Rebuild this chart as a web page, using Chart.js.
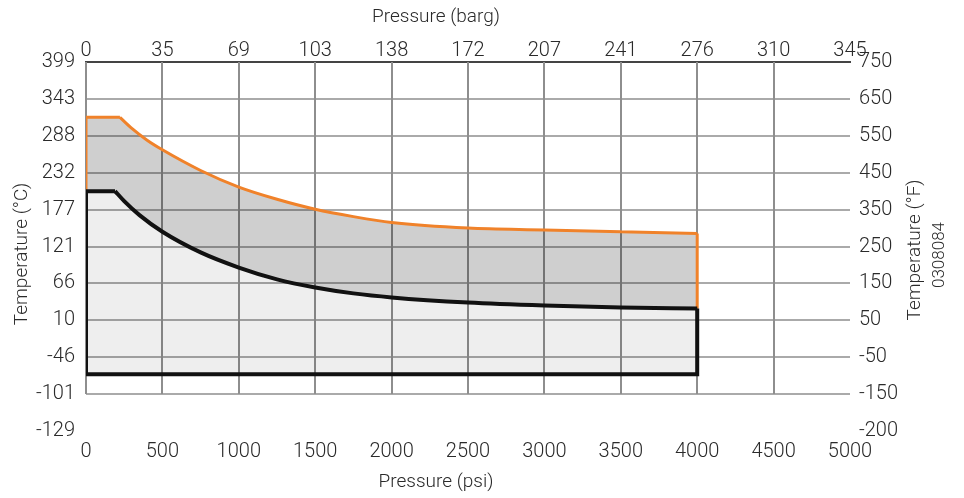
<!DOCTYPE html>
<html>
<head>
<meta charset="utf-8">
<script src="https://cdn.jsdelivr.net/npm/chart.js@4/dist/chart.umd.min.js"></script>
<style>
  body { margin: 0; background: #fff; }
  #chart { display: block; }
</style>
</head>
<body>
<canvas id="chart" width="964" height="498"></canvas>
<script>
// tick labels
const psiLabels = ["0", "500", "1000", "1500", "2000", "2500", "3000", "3500", "4000", "4500", "5000"];
const bargLabels = ["0", "35", "69", "103", "138", "172", "207", "241", "276", "310", "345"];
const fLabels = ["-200", "-150", "-50", "50", "150", "250", "350", "450", "550", "650", "750"];
const cLabels = ["-129", "-101", "-46", "10", "66", "121", "177", "232", "288", "343", "399"];

// upper (orange) limit, psi vs °F
const orangePsi = [0, 222, 300, 400, 500, 750, 1000, 1250, 1500, 1750, 2000, 2500, 3000, 3500, 4000];
const orangeF = [600, 600, 570, 538, 512, 456, 411, 378, 351, 331, 315, 300, 295, 290, 285];

// lower (black) limit, psi vs °F
const blackPsi = [0, 190, 250, 350, 500, 750, 1000, 1250, 1500, 1750, 2000, 2500, 3000, 3500, 4000];
const blackF = [400, 400, 373, 335, 290, 234, 193, 161, 139, 123, 112, 98, 90, 85, 82];

const minTempF = -96;
const maxPsi = 4000;

const toPoints = (xs, ys) => xs.map((x, i) => ({ x: x, y: ys[i] }));
const last = (a) => a[a.length - 1];

// curved part starts at the corner (index 1)
const blackCurve = toPoints(blackPsi, blackF).slice(1);
const orangeCurve = toPoints(orangePsi, orangeF).slice(1);

const blackEdges = [
  { x: blackPsi[1], y: blackF[1] },
  { x: 0, y: blackF[0] },
  { x: 0, y: minTempF },
  { x: maxPsi, y: minTempF },
  { x: maxPsi, y: last(blackF) },
];
const orangeEdges = [
  { x: 0, y: blackF[0] },
  { x: 0, y: orangeF[0] },
  { x: orangePsi[1], y: orangeF[1] },
  { x: 2000, y: null },
  { x: maxPsi, y: last(blackF) },
  { x: maxPsi, y: last(orangeF) },
];

const FONT = "Roboto, 'Liberation Sans', sans-serif";
Chart.defaults.font.family = FONT;
Chart.defaults.font.weight = 300;
Chart.defaults.color = "#2a2a2a";

function drawText(ctx, text, x, y, size, rot) {
  ctx.save();
  ctx.fillStyle = "#2a2a2a";
  ctx.textAlign = "center";
  ctx.textBaseline = "middle";
  ctx.font = "300 " + size + "px " + FONT;
  ctx.translate(x, y);
  if (rot) ctx.rotate(rot);
  ctx.fillText(text, 0, 0);
  ctx.restore();
}

// vertical grid lines stop at the -150 °F line; axis titles
const extras = {
  id: "extras",
  beforeDatasetsDraw(chart) {
    const { ctx, chartArea, scales } = chart;
    const yBottom = scales.yF.getPixelForValue(-150);
    ctx.save();
    ctx.strokeStyle = "#8e8e8e";
    ctx.lineWidth = 2;
    scales.x.ticks.forEach((t) => {
      if (t.value >= 5000) return;
      const px = Math.round(scales.x.getPixelForValue(t.value));
      ctx.beginPath();
      ctx.moveTo(px, chartArea.top);
      ctx.lineTo(px, yBottom);
      ctx.stroke();
    });
    ctx.restore();
  },
  afterDraw(chart) {
    const { ctx, scales } = chart;
    const half = -Math.PI / 2;
    drawText(ctx, "Pressure (barg)", 436, 17, 19, 0);
    drawText(ctx, "Pressure (psi)", 436, 482, 19, 0);
    drawText(ctx, "Temperature (°C)", 22, 254, 19, half);
    drawText(ctx, "Temperature (°F)", scales.yF.left + 65, 250, 19, half);
    drawText(ctx, "0308084", scales.yF.left + 90, 255, 17, half);
  },
};

const noLine = "rgba(0,0,0,0)";

new Chart(document.getElementById("chart"), {
  type: "line",
  data: {
    datasets: [
      {
        label: "lower area",
        data: toPoints(blackPsi, blackF),
        borderColor: noLine,
        borderWidth: 0,
        backgroundColor: "rgba(0,0,0,0.065)",
        fill: { value: minTempF },
        cubicInterpolationMode: "monotone",
        pointRadius: 0,
        xAxisID: "x",
        yAxisID: "yF",
        order: 5,
      },
      {
        label: "upper area",
        data: toPoints(orangePsi, orangeF),
        borderColor: noLine,
        borderWidth: 0,
        backgroundColor: "rgba(0,0,0,0.19)",
        fill: 0,
        cubicInterpolationMode: "monotone",
        pointRadius: 0,
        xAxisID: "x",
        yAxisID: "yF",
        order: 6,
      },
      {
        label: "lower limit",
        data: blackCurve,
        borderColor: "#111",
        borderWidth: 4,
        fill: false,
        cubicInterpolationMode: "monotone",
        pointRadius: 0,
        xAxisID: "x",
        yAxisID: "yF",
        order: 1,
      },
      {
        label: "upper limit",
        data: orangeCurve,
        borderColor: "#f0822a",
        borderWidth: 3,
        fill: false,
        cubicInterpolationMode: "monotone",
        pointRadius: 0,
        xAxisID: "x",
        yAxisID: "yF",
        order: 3,
      },
      {
        label: "lower edges",
        data: blackEdges,
        borderColor: "#111",
        borderWidth: 4,
        borderJoinStyle: "miter",
        fill: false,
        tension: 0,
        pointRadius: 0,
        xAxisID: "x",
        yAxisID: "yF",
        order: 0,
      },
      {
        label: "upper edges",
        data: orangeEdges,
        borderColor: "#f0822a",
        borderWidth: 3,
        borderJoinStyle: "miter",
        fill: false,
        tension: 0,
        spanGaps: false,
        pointRadius: 0,
        xAxisID: "x",
        yAxisID: "yF",
        order: 2,
      },
    ],
  },
  options: {
    responsive: false,
    animation: false,
    layout: { padding: 0 },
    plugins: {
      legend: { display: false },
      tooltip: { enabled: false },
    },
    scales: {
      x: {
        type: "linear",
        position: "bottom",
        min: 0,
        max: 5000,
        afterFit: (s) => { s.height = 67; },
        grid: { display: false, drawTicks: false },
        border: { display: false },
        ticks: {
          stepSize: 500,
          autoSkip: false,
          maxRotation: 0,
          padding: 9,
          font: { size: 20 },
          callback: (v, i) => psiLabels[i],
        },
      },
      x2: {
        type: "linear",
        position: "top",
        min: 0,
        max: 5000,
        afterFit: (s) => { s.height = 62; },
        grid: { display: false, drawTicks: false },
        border: { display: true, color: "#444", width: 2 },
        ticks: {
          stepSize: 500,
          autoSkip: false,
          maxRotation: 0,
          padding: -1,
          font: { size: 20 },
          callback: (v, i) => bargLabels[i],
        },
      },
      yC: {
        type: "linear",
        position: "left",
        min: -250,
        max: 750,
        afterFit: (s) => { s.width = 86; },
        border: { display: false },
        grid: {
          drawTicks: false,
          lineWidth: 2,
          color: (c) => (c.tick && (c.tick.value === -250 || c.tick.value === 750) ? "rgba(0,0,0,0)" : "#aaa"),
        },
        ticks: {
          stepSize: 100,
          autoSkip: false,
          padding: 11,
          font: { size: 20 },
          callback: (v, i) => cLabels[i],
        },
      },
      yF: {
        type: "linear",
        position: "right",
        min: -250,
        max: 750,
        afterFit: (s) => { s.width = 114; },
        border: { display: false },
        grid: { display: false, drawTicks: false },
        ticks: {
          stepSize: 100,
          autoSkip: false,
          padding: 9,
          font: { size: 20 },
          callback: (v, i) => fLabels[i],
        },
      },
    },
  },
  plugins: [extras],
});
</script>
</body>
</html>
